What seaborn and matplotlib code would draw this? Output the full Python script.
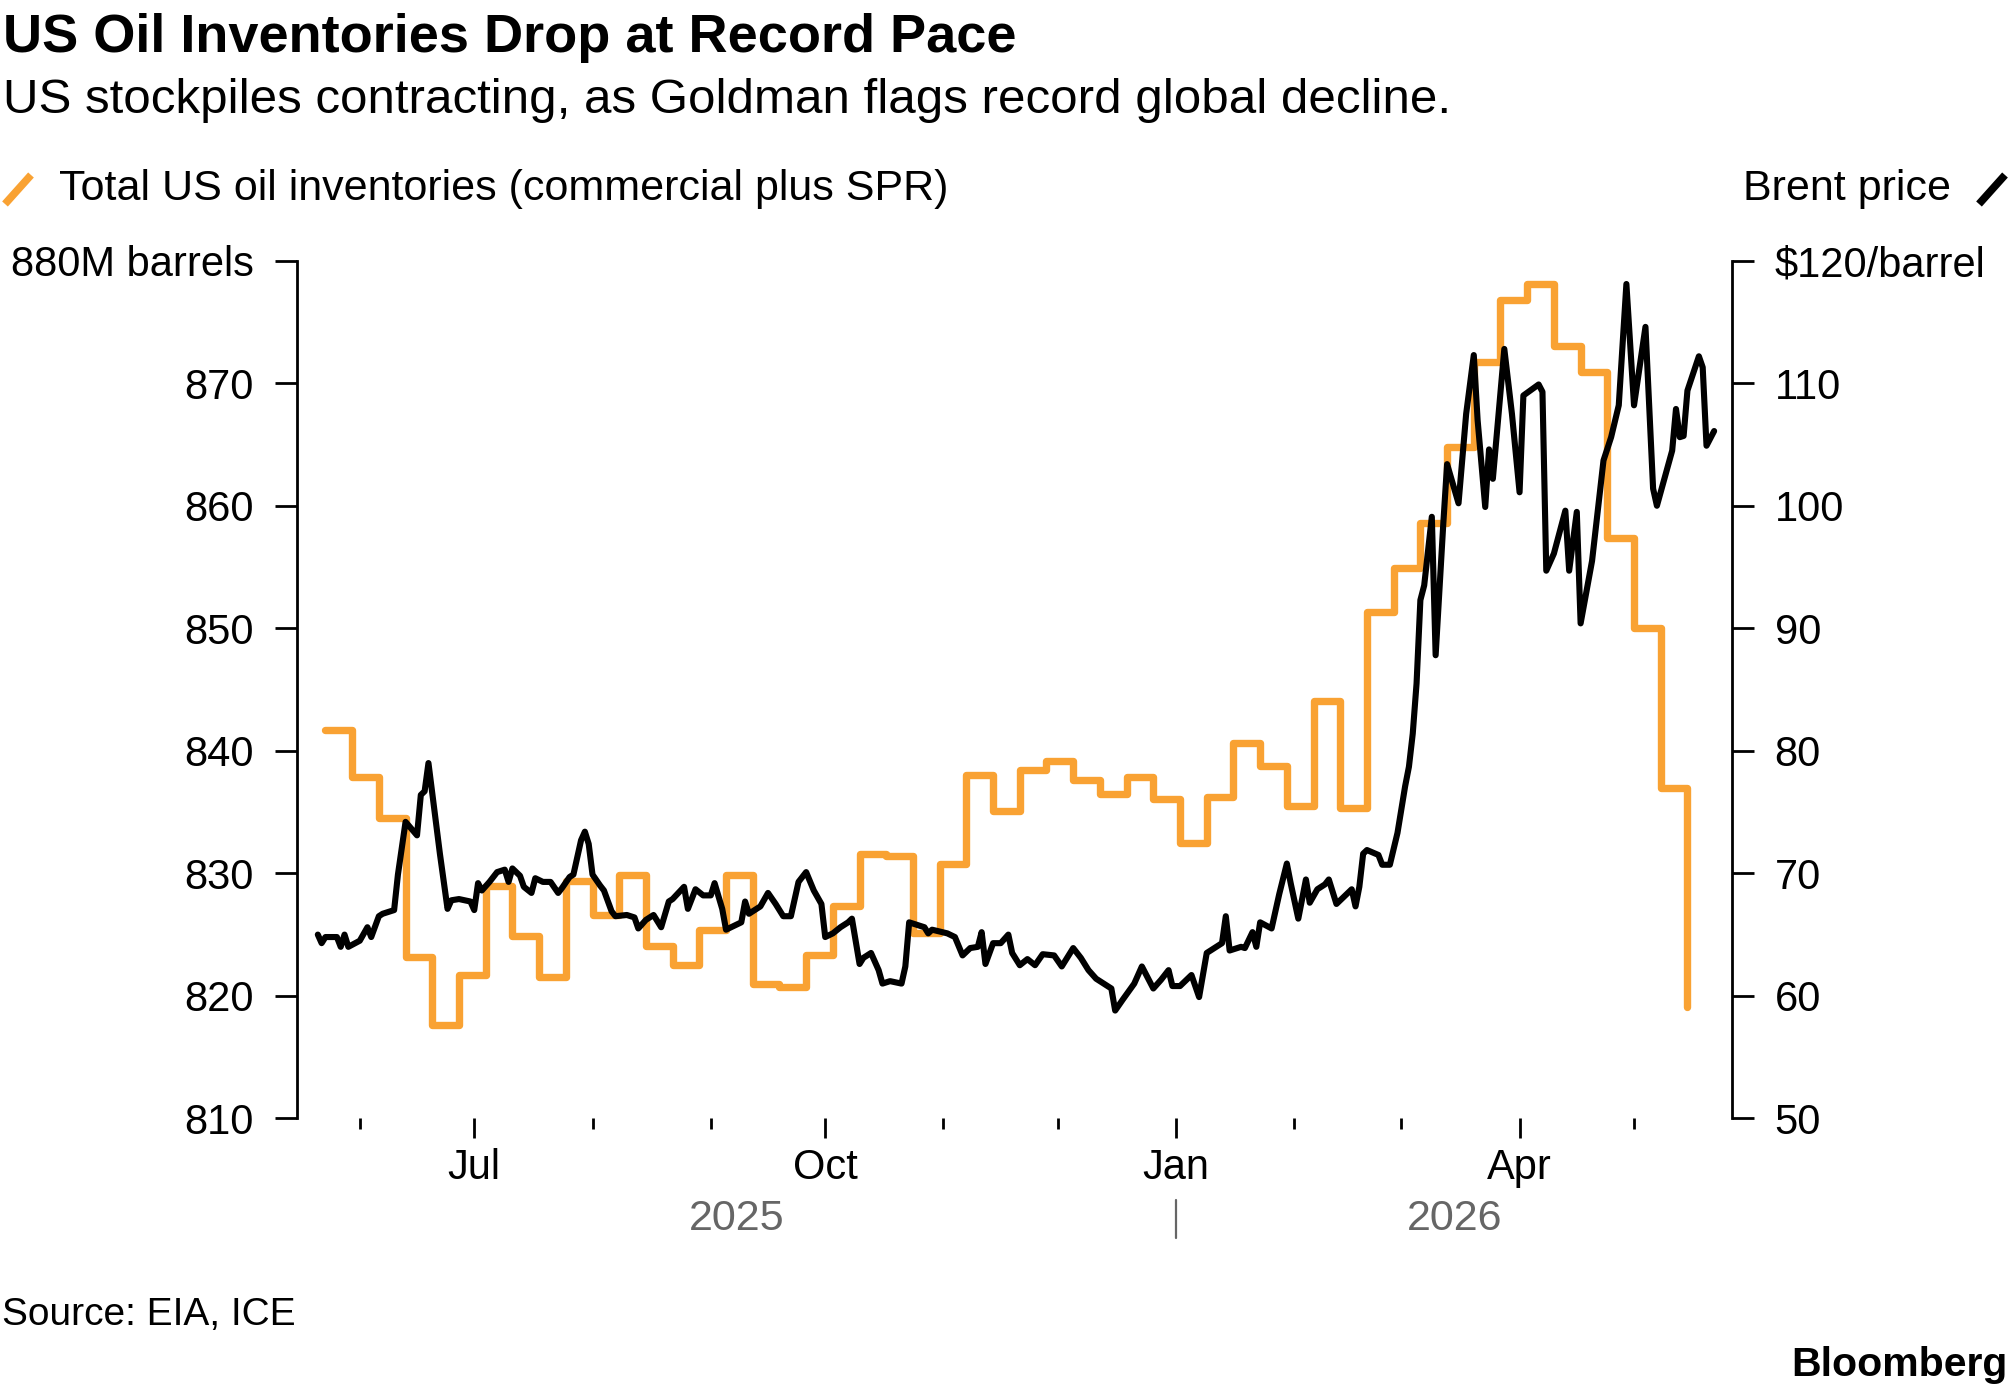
import numpy as np
import pandas as pd
import matplotlib
matplotlib.use("Agg")
import matplotlib.pyplot as plt
import matplotlib.dates as mdates
from matplotlib.lines import Line2D
from matplotlib.transforms import blended_transform_factory
import seaborn as sns

# weekly EIA inventories (million barrels), week ending Friday
inv_first_week = "2025-05-23"
inventory_mbbl = [841.7, 837.9, 834.5, 823.2, 817.6, 821.7, 829.0, 824.9, 821.5, 829.4,
                  826.6, 829.9, 824.1, 822.5, 825.4, 829.9, 821.0, 820.7, 823.3, 827.3,
                  831.6, 831.4, 825.1, 830.8, 838.0, 835.1, 838.4, 839.2, 837.6, 836.5,
                  837.9, 836.1, 832.5, 836.2, 840.6, 838.8, 835.5, 844.1, 835.3, 851.3,
                  854.9, 858.6, 864.8, 871.7, 876.8, 878.1, 873.0, 870.9, 857.4, 850.0,
                  837.0, 819.1]

# Brent price ($/barrel)
brent_dates = [
    "2025-05-21", "2025-05-22", "2025-05-23", "2025-05-26", "2025-05-27", "2025-05-28", "2025-05-29",
    "2025-06-01", "2025-06-03", "2025-06-04", "2025-06-06", "2025-06-07", "2025-06-10", "2025-06-11",
    "2025-06-13", "2025-06-16", "2025-06-17", "2025-06-18", "2025-06-19", "2025-06-22", "2025-06-24",
    "2025-06-25", "2025-06-27", "2025-06-30",
    "2025-07-01", "2025-07-02", "2025-07-03", "2025-07-05", "2025-07-07", "2025-07-09", "2025-07-10",
    "2025-07-11", "2025-07-13", "2025-07-14", "2025-07-16", "2025-07-17", "2025-07-19", "2025-07-21",
    "2025-07-23", "2025-07-24", "2025-07-26", "2025-07-27", "2025-07-29", "2025-07-30", "2025-07-31",
    "2025-08-01", "2025-08-03", "2025-08-04", "2025-08-06", "2025-08-07", "2025-08-10", "2025-08-12",
    "2025-08-13", "2025-08-15", "2025-08-17", "2025-08-19", "2025-08-21", "2025-08-22", "2025-08-25",
    "2025-08-26", "2025-08-28", "2025-08-30",
    "2025-09-01", "2025-09-02", "2025-09-04", "2025-09-05", "2025-09-09", "2025-09-10", "2025-09-11",
    "2025-09-14", "2025-09-16", "2025-09-18", "2025-09-20", "2025-09-22", "2025-09-24", "2025-09-26",
    "2025-09-28", "2025-09-30",
    "2025-10-01", "2025-10-03", "2025-10-05", "2025-10-07", "2025-10-08", "2025-10-10", "2025-10-11",
    "2025-10-13", "2025-10-15", "2025-10-16", "2025-10-18", "2025-10-21", "2025-10-22", "2025-10-23",
    "2025-10-25", "2025-10-27", "2025-10-28", "2025-10-29",
    "2025-11-02", "2025-11-04", "2025-11-06", "2025-11-08", "2025-11-10", "2025-11-11", "2025-11-12",
    "2025-11-14", "2025-11-16", "2025-11-18", "2025-11-19", "2025-11-21", "2025-11-23", "2025-11-25",
    "2025-11-27", "2025-11-30",
    "2025-12-02", "2025-12-03", "2025-12-05", "2025-12-07", "2025-12-09", "2025-12-11", "2025-12-13",
    "2025-12-15", "2025-12-16", "2025-12-18", "2025-12-21", "2025-12-23", "2025-12-26", "2025-12-28",
    "2025-12-30", "2025-12-31",
    "2026-01-02", "2026-01-05", "2026-01-07", "2026-01-09", "2026-01-11", "2026-01-13", "2026-01-14",
    "2026-01-15", "2026-01-18", "2026-01-19", "2026-01-21", "2026-01-22", "2026-01-23", "2026-01-26",
    "2026-01-28", "2026-01-30", "2026-01-31",
    "2026-02-02", "2026-02-04", "2026-02-05", "2026-02-07", "2026-02-09", "2026-02-10", "2026-02-12",
    "2026-02-14", "2026-02-16", "2026-02-17", "2026-02-18", "2026-02-19", "2026-02-20", "2026-02-23",
    "2026-02-24", "2026-02-26", "2026-02-28",
    "2026-03-02", "2026-03-03", "2026-03-04", "2026-03-05", "2026-03-06", "2026-03-07", "2026-03-09",
    "2026-03-10", "2026-03-12", "2026-03-13", "2026-03-16", "2026-03-18", "2026-03-20", "2026-03-21",
    "2026-03-23", "2026-03-24", "2026-03-25", "2026-03-28", "2026-03-30",
    "2026-04-01", "2026-04-02", "2026-04-06", "2026-04-07", "2026-04-08", "2026-04-10", "2026-04-13",
    "2026-04-14", "2026-04-16", "2026-04-17", "2026-04-20", "2026-04-23", "2026-04-25", "2026-04-27",
    "2026-04-29",
    "2026-05-01", "2026-05-04", "2026-05-06", "2026-05-07", "2026-05-11", "2026-05-12", "2026-05-13",
    "2026-05-14", "2026-05-15", "2026-05-18", "2026-05-19", "2026-05-20", "2026-05-22",
]
brent_usd = [
    65.0, 64.3, 64.8, 64.8, 64.0, 65.0, 64.0,
    64.5, 65.6, 64.8, 66.5, 66.7, 67.0, 69.9, 74.2, 73.1, 76.4, 76.7, 79.0, 71.6, 67.1, 67.8, 67.9, 67.7,
    67.0, 69.2, 68.6, 69.3, 70.1, 70.3, 69.3, 70.4, 69.8, 68.9, 68.4, 69.6, 69.3, 69.3, 68.4, 68.8,
    69.7, 69.9, 72.7, 73.4, 72.4,
    69.9, 69.0, 68.6, 66.9, 66.5, 66.6, 66.4, 65.5, 66.2, 66.6, 65.6, 67.7, 67.9, 68.9, 67.1, 68.7, 68.2,
    68.2, 69.2, 67.1, 65.4, 66.0, 67.7, 66.7, 67.3, 68.4, 67.5, 66.5, 66.5, 69.3, 70.1, 68.6, 67.5,
    64.8, 65.1, 65.6, 66.0, 66.3, 62.6, 63.1, 63.5, 62.1, 61.0, 61.2, 61.0, 62.4, 66.0, 65.8, 65.6,
    65.1, 65.4,
    65.1, 64.8, 63.3, 63.9, 64.0, 65.2, 62.6, 64.3, 64.3, 65.0, 63.5, 62.5, 63.0, 62.5, 63.4, 63.3,
    62.4, 62.9, 63.9, 63.1, 62.1, 61.4, 61.0, 60.6, 58.8, 59.7, 61.0, 62.4, 60.6, 61.3, 62.1, 60.8,
    60.8, 61.7, 59.9, 63.5, 63.9, 64.3, 66.5, 63.7, 64.0, 63.9, 65.2, 64.0, 66.0, 65.5, 68.3, 70.8, 69.2,
    66.3, 69.5, 67.6, 68.7, 69.1, 69.5, 67.5, 68.1, 68.7, 67.3, 68.9, 71.6, 71.9, 71.5, 70.7, 70.7, 73.3,
    77.1, 78.7, 81.4, 85.5, 92.3, 93.5, 99.1, 87.8, 98.5, 103.4, 100.2, 107.5, 112.3, 107.0, 99.9,
    104.6, 102.2, 112.8, 107.5,
    101.1, 109.0, 109.9, 109.3, 94.7, 96.1, 99.6, 94.7, 99.5, 90.4, 95.5, 103.7, 105.6, 108.2, 118.1,
    108.2, 114.6, 101.4, 100.0, 104.5, 107.9, 105.6, 105.7, 109.4, 112.2, 111.3, 104.9, 106.1,
]

inv_ticks = [810, 820, 830, 840, 850, 860, 870, 880]
inv_tick_labels = ["810", "820", "830", "840", "850", "860", "870", "880M barrels"]
brent_ticks = [50, 60, 70, 80, 90, 100, 110, 120]
brent_tick_labels = ["50", "60", "70", "80", "90", "100", "110", "$120/barrel"]

ORANGE = "#F9A233"
GREY = "#666666"

inv = pd.DataFrame({
    "date": pd.date_range(inv_first_week, periods=len(inventory_mbbl), freq="W-FRI"),
    "value": inventory_mbbl,
})
brent = pd.DataFrame({"date": pd.to_datetime(brent_dates), "value": brent_usd})

sns.set_style("ticks")
plt.rcParams["font.family"] = ["Liberation Sans", "DejaVu Sans"]
plt.rcParams["text.color"] = "black"
plt.rcParams["axes.labelcolor"] = "black"
plt.rcParams["xtick.color"] = "black"
plt.rcParams["ytick.color"] = "black"
plt.rcParams["axes.edgecolor"] = "black"

fig = plt.figure(figsize=(20.1, 13.95), dpi=100)
ax = fig.add_axes([0.1476, 0.1983, 0.7143, 0.6148])

sns.lineplot(data=inv, x="date", y="value", ax=ax, color=ORANGE,
             drawstyle="steps-post")
ax2 = ax.twinx()
sns.lineplot(data=brent, x="date", y="value", ax=ax2, color="black")

# make sure the stroke widths stick
for ln in ax.lines:
    ln.set_linewidth(5.3)
    ln.set_solid_capstyle("round")
    ln.set_solid_joinstyle("round")
for ln in ax2.lines:
    ln.set_linewidth(4.4)
    ln.set_solid_capstyle("round")
    ln.set_solid_joinstyle("round")

x0 = pd.Timestamp("2025-05-15 11:00")
x1 = pd.Timestamp("2026-05-26 19:00")
ax.set_xlim(x0, x1)
ax.set_ylim(810, 880)
ax2.set_ylim(50, 120)

for a in (ax, ax2):
    a.set_xlabel("")
    a.set_ylabel("")
    a.grid(False)
    for s in a.spines.values():
        s.set_visible(False)
    a.set_facecolor("none")
ax.spines["left"].set_visible(True)
ax.spines["left"].set_linewidth(2)
ax.spines["left"].set_color("black")
ax2.spines["right"].set_visible(True)
ax2.spines["right"].set_linewidth(2)
ax2.spines["right"].set_color("black")

ax.set_yticks(inv_ticks)
ax.set_yticklabels(inv_tick_labels)
ax2.set_yticks(brent_ticks)
ax2.set_yticklabels(brent_tick_labels)

ax.tick_params(axis="y", direction="out", length=15.8, width=2, pad=15,
               labelsize=30, colors="black", left=True, right=False)
ax2.tick_params(axis="y", direction="out", length=15.8, width=2, pad=14.5,
                labelsize=30, colors="black", right=True, left=False)

ax.xaxis.set_major_locator(mdates.MonthLocator(bymonth=[1, 4, 7, 10]))
ax.xaxis.set_major_formatter(mdates.DateFormatter("%b"))
ax.xaxis.set_minor_locator(mdates.MonthLocator())
ax.tick_params(axis="x", which="major", direction="out", length=14.4, width=2,
               pad=7, labelsize=30, colors="black", bottom=True, top=False)
ax.tick_params(axis="x", which="minor", direction="out", length=8, width=2,
               colors="black", bottom=True, top=False)

# year labels under the month labels
trans = blended_transform_factory(ax.transData, ax.transAxes)
jan1 = pd.Timestamp("2026-01-01")
mid25 = x0 + (jan1 - x0) / 2
mid26 = jan1 + (x1 - jan1) / 2
ax.text(mid25, -0.1302, "2025", transform=trans, ha="center", va="baseline",
        fontsize=31, color=GREY)
ax.text(mid26, -0.1302, "2026", transform=trans, ha="center", va="baseline",
        fontsize=31, color=GREY)
ax.axvline(jan1, ymin=-0.140, ymax=-0.0956, clip_on=False, color=GREY, lw=1.6)

# headline block
fig.text(0.0015, 1 - 52 / 1395, "US Oil Inventories Drop at Record Pace",
         fontsize=39, fontweight="bold", ha="left", va="baseline", color="black")
fig.text(0.0015, 1 - 113 / 1395,
         "US stockpiles contracting, as Goldman flags record global decline.",
         fontsize=35.5, ha="left", va="baseline", color="black")

# legend row
fig.text(59 / 2010, 1 - 200 / 1395, "Total US oil inventories (commercial plus SPR)",
         fontsize=31, ha="left", va="baseline", color="black")
fig.text(1951 / 2010, 1 - 200 / 1395, "Brent price",
         fontsize=31, ha="right", va="baseline", color="black")
fig.add_artist(Line2D([5 / 2010, 31 / 2010], [1 - 204 / 1395, 1 - 175 / 1395],
                      transform=fig.transFigure, color=ORANGE, lw=5.5,
                      solid_capstyle="butt"))
fig.add_artist(Line2D([1979 / 2010, 2005 / 2010], [1 - 204 / 1395, 1 - 175 / 1395],
                      transform=fig.transFigure, color="black", lw=5.5,
                      solid_capstyle="butt"))

# footer
fig.text(0.001, 1 - 1325 / 1395, "Source: EIA, ICE", fontsize=28,
         ha="left", va="baseline", color="black")
fig.text(0.999, 1 - 1376 / 1395, "Bloomberg", fontsize=29.5, fontweight="bold",
         ha="right", va="baseline", color="black")

fig.savefig("out.png", dpi=100, facecolor="white")
